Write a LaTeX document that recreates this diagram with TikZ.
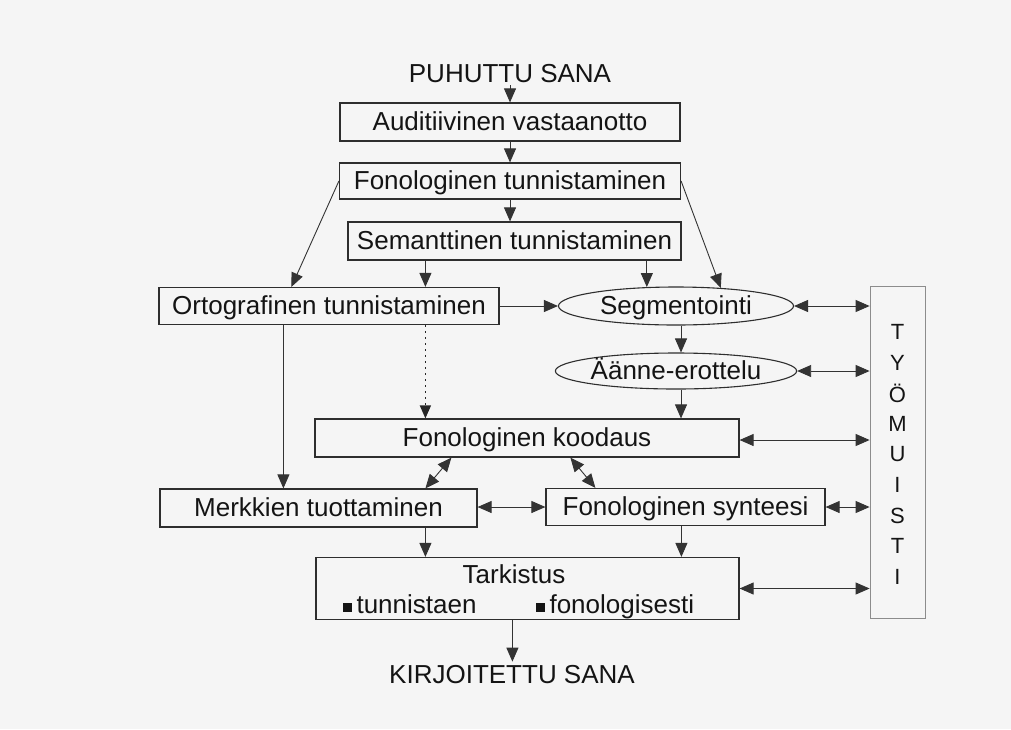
\documentclass[tikz,border=0pt]{standalone}
\usepackage{fontspec}
\setmainfont{Liberation Sans}
\usetikzlibrary{arrows.meta,shapes.geometric,calc}
\begin{document}
\begin{tikzpicture}[x=1pt,y=-1pt,
  every node/.style={font=\fontsize{26}{30}\selectfont, text=black!92},
  box/.style={draw=black!82, line width=1.2pt, inner sep=0pt, text height=19pt, text depth=2pt},
  oval/.style={ellipse, draw=black!82, line width=1.1pt, inner sep=0pt, text height=19pt, text depth=2pt},
  lbl/.style={inner sep=3pt},
  tip/.tip={Triangle[length=14pt,width=12pt]},
  arr/.style={draw=black!80, line width=0.9pt, -tip},
  darr/.style={draw=black!80, line width=0.9pt, tip-tip},
  dotarr/.style={draw=black!85, line width=1.5pt, dash pattern=on 2pt off 4pt, -{Triangle[length=13pt,width=11pt,sep=0pt]}},
  memletter/.style={inner sep=0pt, font=\fontsize{22}{26}\selectfont}
]
\fill[black!4] (0,0) rectangle (1011,729);
\useasboundingbox (0,0) rectangle (1011,729);

% nodes
\node[lbl, anchor=base] (puh) at (510,82) {PUHUTTU SANA};
\node[box, minimum width=340pt, minimum height=38pt] (aud) at (510,122) {Auditiivinen vastaanotto};
\node[box, minimum width=341pt, minimum height=36pt] (fon) at (510,181) {Fonologinen tunnistaminen};
\node[box, minimum width=333pt, minimum height=38pt] (sem) at (514.5,241) {Semanttinen tunnistaminen};
\node[box, minimum width=340pt, minimum height=37pt] (ort) at (329,306) {Ortografinen tunnistaminen};
\node[oval, minimum width=235pt, minimum height=38pt] (seg) at (676,306) {Segmentointi};
\node[oval, minimum width=230pt, minimum height=36pt] (aan) at (676,371) {Äänne-erottelu};
\node[box, minimum width=424pt, minimum height=38pt] (koo) at (527,438) {Fonologinen koodaus};
\node[box, minimum width=317pt, minimum height=38pt] (mer) at (318.5,508) {Merkkien tuottaminen};
\node[box, minimum width=279pt, minimum height=37pt] (syn) at (685.5,507) {Fonologinen synteesi};
\node[box, minimum width=423pt, minimum height=62pt] (tar) at (527.5,588.5) {};
\node[inner sep=0pt, anchor=base] (tart) at (514,583) {Tarkistus};
\node[inner sep=0pt, anchor=base west] (taru) at (343,613) {\raisebox{1pt}{\rule{9pt}{9pt}}\,tunnistaen};
\node[inner sep=0pt, anchor=base west] (tarf) at (536,613) {\raisebox{1pt}{\rule{9pt}{9pt}}\,fonologisesti};
\node[lbl, anchor=base] (kir) at (512,683) {KIRJOITETTU SANA};
\node[draw=black!45, line width=0.8pt, minimum width=55pt, minimum height=332pt, inner sep=0pt] (tyo) at (897.5,452) {};
\foreach \c [count=\i from 0] in {T,Y,Ö,M,U,I,S,T,I}
  \node[memletter] (m\i) at (897.5,{332+30.6*\i}) {\c};

% vertical flow
\draw[arr] (puh.south) -- (aud.north);
\draw[arr] (aud.south) -- (fon.north);
\draw[arr] (fon.south) -- (fon.south |- sem.north);
\draw[arr] (fon.west) -- ([xshift=133pt]ort.north west);
\draw[arr] (fon.east) -- (seg.22.9);
\draw[arr] ([xshift=78pt]sem.south west) -- ([xshift=78pt]sem.south west |- ort.north);
\draw[arr] (sem.south -| seg.147.6) -- (seg.147.6);
\draw[arr] (ort.east) -- (seg.west);
\draw[arr] ([xshift=125pt]ort.south west) -- ([xshift=125pt]ort.south west |- mer.north);
\draw[dotarr] ([xshift=267pt]ort.south west) -- ([xshift=267pt]ort.south west |- koo.north);
\draw[arr] ([xshift=5pt]seg.south) -- ([xshift=5pt]aan.north);
\draw[arr] ([xshift=5pt]aan.south) -- ([xshift=5pt]aan.south |- koo.north);
\draw[darr] ([xshift=137pt]koo.south west) -- ([xshift=266pt]mer.north west);
\draw[darr] ([xshift=256pt]koo.south west) -- ([xshift=50pt]syn.north west);
\draw[darr] (syn.west -| mer.east) -- (syn.west);
\draw[arr] ([xshift=266pt]mer.south west) -- ([xshift=266pt]mer.south west |- tar.north);
\draw[arr] ([xshift=136pt]syn.south west) -- ([xshift=136pt]syn.south west |- tar.north);
\draw[arr] ([xshift=197pt]tar.south west) -- ([xshift=197pt]tar.south west |- kir.north);

% working memory links
\draw[darr] (seg.east) -- (seg.east -| tyo.west);
\draw[darr] (aan.east) -- (aan.east -| tyo.west);
\draw[darr] ([yshift=-2pt]koo.east) -- ([yshift=-2pt]koo.east -| tyo.west);
\draw[darr] (syn.east) -- (syn.east -| tyo.west);
\draw[darr] (tar.east) -- (tar.east -| tyo.west);
\end{tikzpicture}
\end{document}
